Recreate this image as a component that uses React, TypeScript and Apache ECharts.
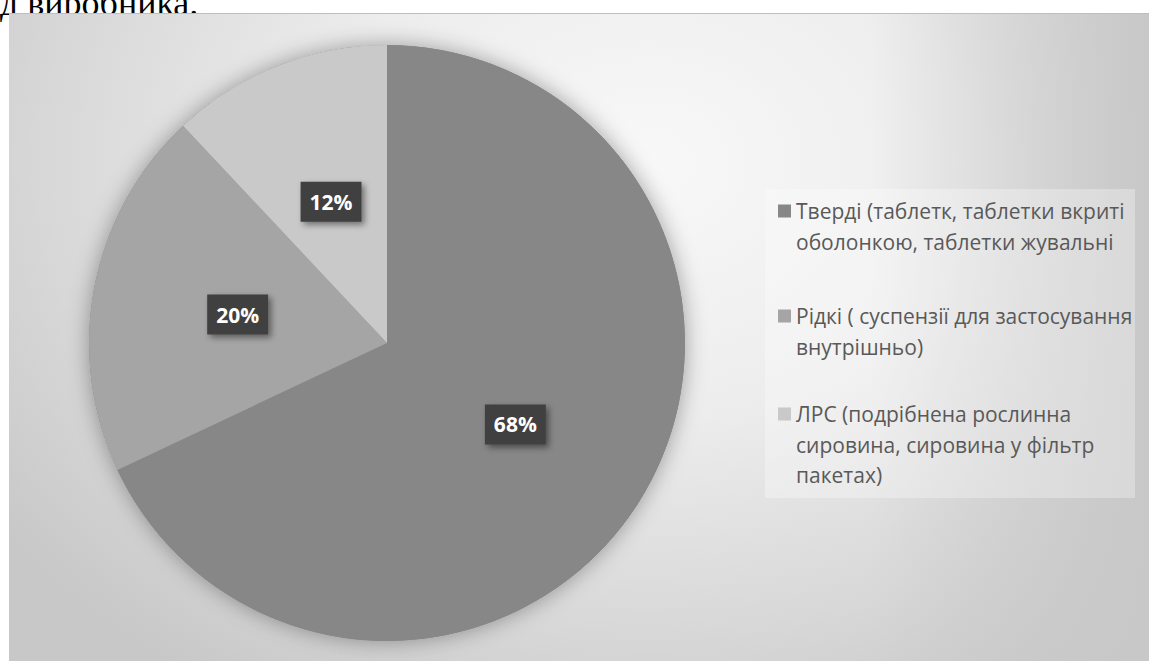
import React, { useEffect, useRef } from "react";
import * as echarts from "echarts";

const categories = [
  "Тверді (таблетк, таблетки вкриті\nоболонкою, таблетки жувальні",
  "Рідкі ( суспензії для застосування\nвнутрішньо)",
  "ЛРС (подрібнена рослинна\nсировина, сировина у фільтр\nпакетах)",
];
const values = [68, 20, 12];
const colors = ["#878787", "#a5a5a5", "#c9c9c9"];

const LH = 30.5;
const legendFirstLine = [197, 302, 400];

export default function App() {
  const ref = useRef<HTMLDivElement>(null);
  useEffect(() => {
    if (!ref.current) return;
    const chart = echarts.init(ref.current, undefined, { renderer: "svg" });
    const rich: Record<string, any> = {
      g: { width: 5, height: 13 },
      ind: { width: 18, height: 13 },
      t: {
        fontFamily: "Open Sans",
        fontSize: 21,
        color: "#595959",
        lineHeight: LH,
        verticalAlign: "middle",
      },
    };
    colors.forEach((c, i) => {
      rich["s" + i] = {
        width: 13,
        height: 13,
        backgroundColor: c,
        verticalAlign: "middle",
        lineHeight: LH,
      };
    });
    const legends = categories.map((name, i) => ({
      show: true,
      orient: "vertical",
      left: 764,
      top: legendFirstLine[i] - LH / 2,
      padding: 0,
      itemWidth: 0,
      itemHeight: 0,
      icon: "rect",
      selectedMode: false,
      data: [name],
      formatter: (nm: string) =>
        nm
          .split("\n")
          .map((l, k) => (k === 0 ? `{s${i}|}{g|}` : `{ind|}`) + `{t|${l}}`)
          .join("\n"),
      textStyle: {
        fontFamily: "Open Sans",
        fontSize: 21,
        color: "#595959",
        lineHeight: LH,
        rich,
      },
    }));
    chart.setOption({
      animation: false,
      backgroundColor: "transparent",
      legend: legends,
      graphic: [
        {
          type: "rect",
          shape: { x: 756, y: 175, width: 370, height: 309 },
          style: { fill: "rgba(255,255,255,0.3)" },
          z: 0,
          silent: true,
        },
      ],
      series: [
        {
          type: "pie",
          name: "shadow",
          center: [378, 329],
          radius: 298,
          silent: true,
          z: 1,
          label: { show: false },
          labelLine: { show: false },
          data: [
            {
              name: "shadow",
              value: 1,
              itemStyle: {
                color: "#888888",
                shadowBlur: 22,
                shadowColor: "rgba(0,0,0,0.35)",
              },
            },
          ],
        },
        {
          type: "pie",
          name: "main",
          center: [378, 329],
          radius: 298,
          startAngle: 90,
          clockwise: true,
          z: 2,
          emphasis: { disabled: true },
          data: categories.map((name, i) => ({
            name,
            value: values[i],
            itemStyle: { color: colors[i] },
          })),
          label: {
            show: true,
            position: "inside",
            formatter: "{d}%",
            color: "#ffffff",
            fontSize: 21,
            fontWeight: "bold",
            fontFamily: "Open Sans",
            backgroundColor: "#3f3f3f",
            padding: [10, 9, 9, 9],
            shadowColor: "rgba(0,0,0,0.45)",
            shadowBlur: 6,
            shadowOffsetX: 3,
            shadowOffsetY: 3,
          },
          labelLine: { show: false },
        },
      ],
    });
    return () => chart.dispose();
  }, []);

  return (
    <div
      style={{
        position: "fixed",
        left: 0,
        top: 0,
        width: 1149,
        height: 661,
        overflow: "hidden",
        background: "#ffffff",
      }}
    >
      <div
        style={{
          position: "absolute",
          left: 0,
          top: -15,
          fontFamily: "'Liberation Serif', serif",
          fontSize: 36,
          lineHeight: "36px",
          color: "#000",
          whiteSpace: "nowrap",
        }}
      >
        д виробника.
      </div>
      <div
        style={{
          position: "absolute",
          left: 9,
          top: 13,
          width: 1140,
          height: 648,
          borderTop: "1px solid #bfbfbf",
          boxSizing: "border-box",
          background:
            "linear-gradient(to left, #c8c8c8 0px, rgba(200,200,200,0) 280px), radial-gradient(ellipse 800px 620px at 640px 150px, #f8f8f8 0%, #ededed 40%, #d8d8d8 75%, #c8c8c8 100%)",
        }}
      >
        <div ref={ref} style={{ width: 1140, height: 647 }} />
      </div>
    </div>
  );
}
